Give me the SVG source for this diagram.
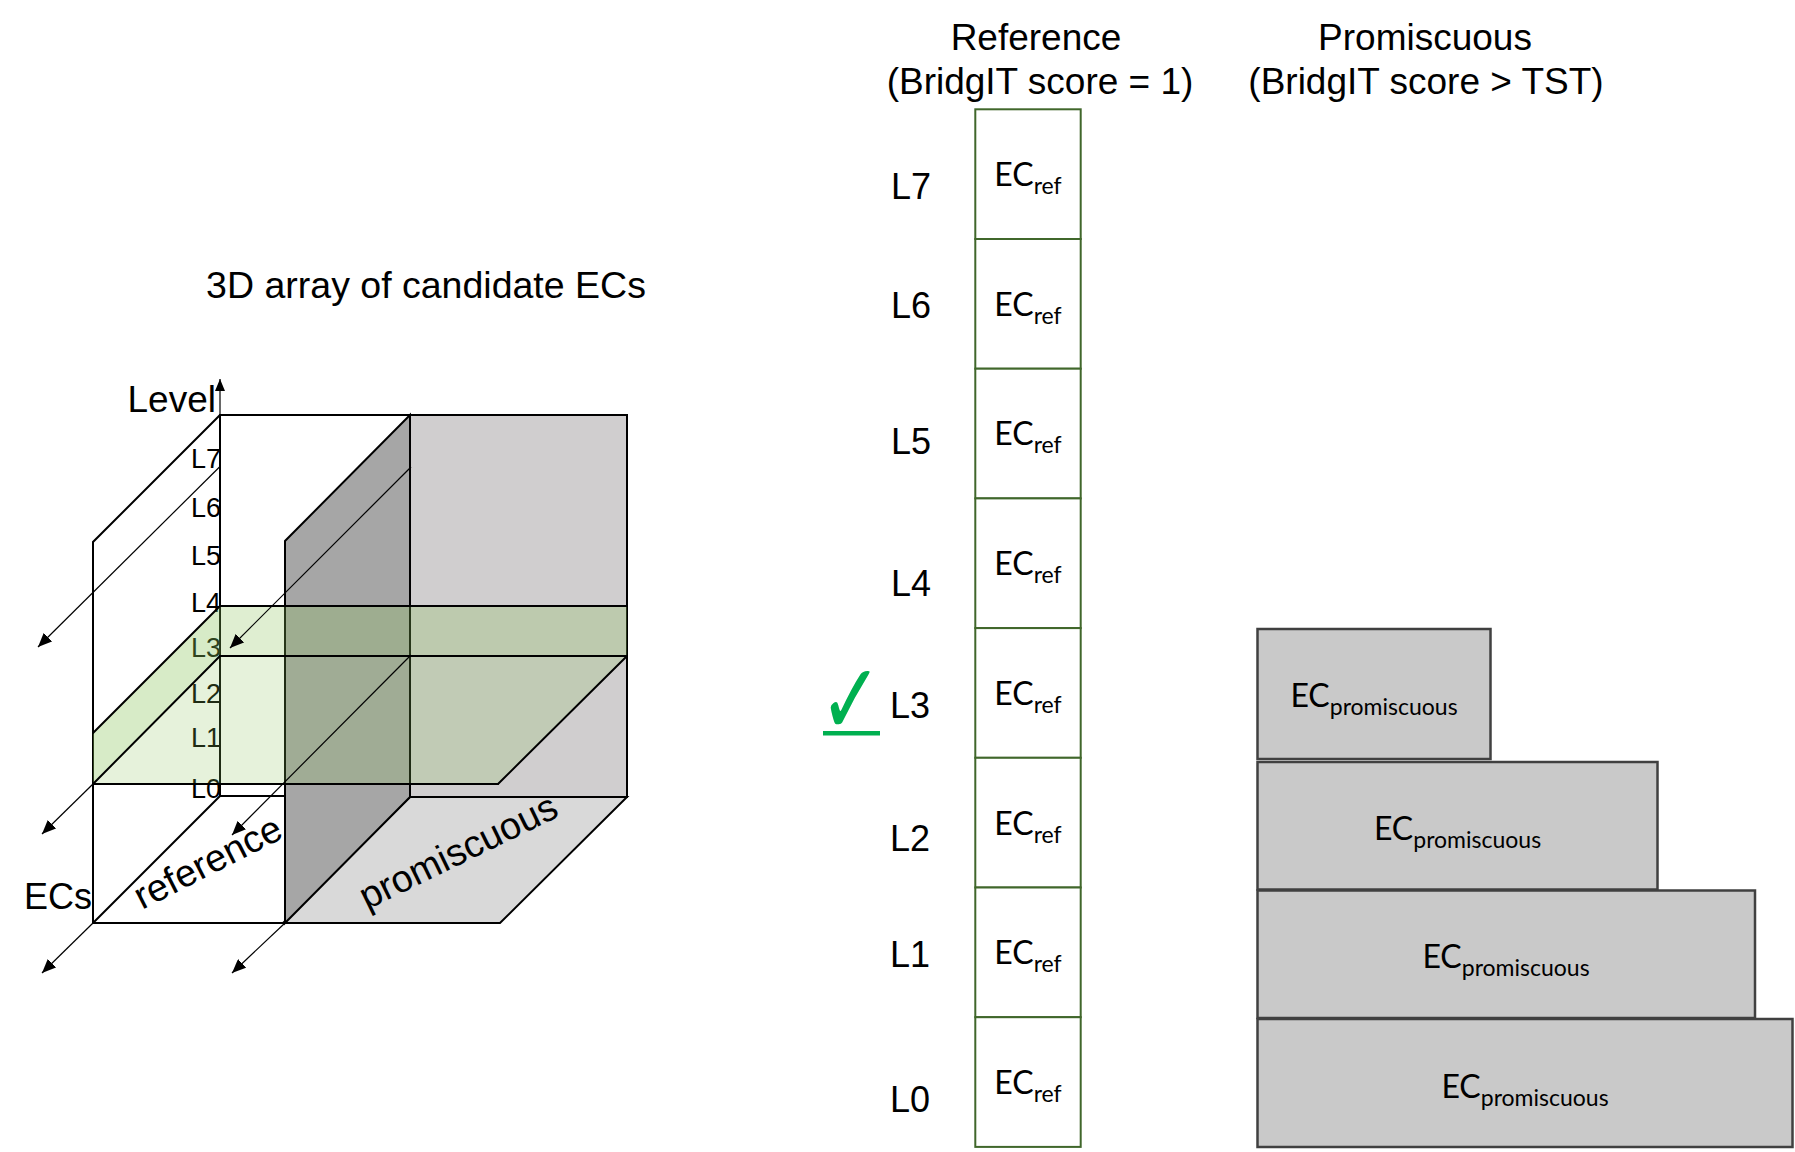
<svg xmlns="http://www.w3.org/2000/svg" width="1795" height="1152" viewBox="0 0 1795 1152">
<defs>
<style>
.t{font-family:"Liberation Sans",Arial,sans-serif;fill:#000}
.big{font-size:37px}
.lab{font-size:36px}
.flr{font-size:38px}
.ax{font-size:27px}
.edge{fill:none;stroke:#000;stroke-width:2;stroke-linecap:round}
.thin{fill:none;stroke:#000;stroke-width:1.2}
.refbox{fill:#fff;stroke:#40672b;stroke-width:2}
.prombox{fill:#c9c9c9;stroke:#404040;stroke-width:2.5}
.ec{font-family:Lato,"Open Sans",sans-serif;font-size:32px;fill:#000}
.sub{font-size:23px}
.slab{fill:#8bc35b;stroke:none}
</style>
<marker id="ah" viewBox="0 0 14 12" refX="14" refY="6" markerWidth="14" markerHeight="12" markerUnits="userSpaceOnUse" orient="auto">
<path d="M0,0 L14,6 L0,12 z" fill="#000"/>
</marker>
<marker id="ahs" viewBox="0 0 12 10" refX="12" refY="5" markerWidth="12" markerHeight="10" markerUnits="userSpaceOnUse" orient="auto">
<path d="M0,0 L12,5 L0,10 z" fill="#000"/>
</marker>
</defs>
<rect width="1795" height="1152" fill="#fff"/>

<g id="title-3d">
<text class="t" font-size="37.5" x="426" y="298" text-anchor="middle">3D array of candidate ECs</text>
</g>

<g id="cube3d">
<polygon points="220,415 93,542 93,923 220,796" fill="#fff"/>
<rect x="410" y="415" width="217" height="382" fill="#d0cecf" stroke="#000" stroke-width="2"/>
<polygon points="410,797 627,797 500,923 283,923" fill="#d9d9d9" stroke="#000" stroke-width="2"/>
<line class="edge" x1="220" y1="796" x2="410" y2="796"/>
<line class="edge" x1="220" y1="796" x2="93" y2="923"/>
<line class="edge" x1="93" y1="923" x2="285" y2="923"/>
<line class="edge" x1="220" y1="415" x2="627" y2="415"/>
<polyline class="edge" points="220,415 93,542 93,923"/>
<line class="edge" x1="220" y1="415" x2="220" y2="796"/>
<line class="thin" x1="220" y1="415" x2="220" y2="379" marker-end="url(#ahs)"/>
<polygon points="410,415 285,541 285,923 410,797" fill="#a6a6a6" stroke="#000" stroke-width="2"/>
</g>

<g id="axis-labels">
<text class="t" font-size="37" x="216" y="412" text-anchor="end">Level</text>
<text class="t ax" x="221" y="468" text-anchor="end">L7</text>
<text class="t ax" x="221" y="517" text-anchor="end">L6</text>
<text class="t ax" x="221" y="565" text-anchor="end">L5</text>
<text class="t ax" x="221" y="612" text-anchor="end">L4</text>
<text class="t ax" x="221" y="657" text-anchor="end">L3</text>
<text class="t ax" x="221" y="703" text-anchor="end">L2</text>
<text class="t ax" x="221" y="747" text-anchor="end">L1</text>
<text class="t ax" x="221" y="798" text-anchor="end">L0</text>
</g>

<g id="slab-L3">
<polygon class="slab" points="220,606 627,606 627,656 220,656" fill-opacity="0.28"/>
<polygon class="slab" points="220,656 627,656 498,784 93,784" fill-opacity="0.22"/>
<polygon class="slab" points="220,606 220,656 93,784 93,733" fill-opacity="0.34"/>
<line class="edge" x1="220" y1="606" x2="627" y2="606"/>
<line class="edge" x1="220" y1="656" x2="627" y2="656"/>
<line class="edge" x1="220" y1="606" x2="93" y2="733"/>
<line class="edge" x1="220" y1="656" x2="93" y2="784"/>
<line class="edge" x1="93" y1="784" x2="498" y2="784"/>
<line class="edge" x1="627" y1="656" x2="498" y2="784"/>
</g>

<g id="connectors">
<line class="thin" x1="220.5" y1="466" x2="38" y2="647" marker-end="url(#ah)"/>
<line class="thin" x1="411" y1="467" x2="230" y2="648" marker-end="url(#ah)"/>
<line class="thin" x1="93" y1="784" x2="42" y2="834" marker-end="url(#ah)"/>
<line class="thin" x1="411" y1="655" x2="232" y2="835" marker-end="url(#ah)"/>
<line class="thin" x1="93" y1="923" x2="42" y2="973" marker-end="url(#ah)"/>
<line class="thin" x1="285" y1="923" x2="232" y2="973" marker-end="url(#ah)"/>
</g>

<g id="cube-labels">
<text class="t lab" x="24" y="909">ECs</text>
<text class="t flr" transform="translate(142,910) rotate(-27)">reference</text>
<text class="t flr" transform="translate(367,910) rotate(-26)">promiscuous</text>
</g>

<g id="headers">
<text class="t big" x="1036" y="50" text-anchor="middle">Reference</text>
<text class="t big" x="1040" y="94" text-anchor="middle">(BridgIT score = 1)</text>
<text class="t big" x="1425" y="50" text-anchor="middle">Promiscuous</text>
<text class="t big" x="1426" y="94" text-anchor="middle">(BridgIT score &gt; TST)</text>
</g>

<g id="level-labels">
<text class="t lab" x="911" y="199" text-anchor="middle">L7</text>
<text class="t lab" x="911" y="318" text-anchor="middle">L6</text>
<text class="t lab" x="911" y="454" text-anchor="middle">L5</text>
<text class="t lab" x="911" y="596" text-anchor="middle">L4</text>
<text class="t lab" x="910" y="718" text-anchor="middle">L3</text>
<text class="t lab" x="910" y="851" text-anchor="middle">L2</text>
<text class="t lab" x="910" y="967" text-anchor="middle">L1</text>
<text class="t lab" x="910" y="1112" text-anchor="middle">L0</text>
</g>

<g id="check">
<text transform="translate(819.5,734) scale(0.75,1)" font-family="'DejaVu Sans',sans-serif" font-size="100" fill="#00b050">✓</text>
<rect x="823" y="731" width="57" height="4.5" fill="#00b050"/>
</g>

<g id="ref-column">
<g id="ref-L7"><rect class="refbox" x="975.3" y="109.3" width="105.4" height="129.7"/><text class="ec" x="1028" y="186" text-anchor="middle">EC<tspan class="sub" dy="8">ref</tspan></text></g>
<g id="ref-L6"><rect class="refbox" x="975.3" y="239" width="105.4" height="129.7"/><text class="ec" x="1028" y="315.7" text-anchor="middle">EC<tspan class="sub" dy="8">ref</tspan></text></g>
<g id="ref-L5"><rect class="refbox" x="975.3" y="368.7" width="105.4" height="129.7"/><text class="ec" x="1028" y="445.4" text-anchor="middle">EC<tspan class="sub" dy="8">ref</tspan></text></g>
<g id="ref-L4"><rect class="refbox" x="975.3" y="498.4" width="105.4" height="129.7"/><text class="ec" x="1028" y="575.1" text-anchor="middle">EC<tspan class="sub" dy="8">ref</tspan></text></g>
<g id="ref-L3"><rect class="refbox" x="975.3" y="628.1" width="105.4" height="129.7"/><text class="ec" x="1028" y="704.8" text-anchor="middle">EC<tspan class="sub" dy="8">ref</tspan></text></g>
<g id="ref-L2"><rect class="refbox" x="975.3" y="757.8" width="105.4" height="129.7"/><text class="ec" x="1028" y="834.5" text-anchor="middle">EC<tspan class="sub" dy="8">ref</tspan></text></g>
<g id="ref-L1"><rect class="refbox" x="975.3" y="887.5" width="105.4" height="129.7"/><text class="ec" x="1028" y="964.2" text-anchor="middle">EC<tspan class="sub" dy="8">ref</tspan></text></g>
<g id="ref-L0"><rect class="refbox" x="975.3" y="1017.2" width="105.4" height="129.7"/><text class="ec" x="1028" y="1093.9" text-anchor="middle">EC<tspan class="sub" dy="8">ref</tspan></text></g>
</g>

<g id="prom-column">
<g id="prom-L3"><rect class="prombox" x="1257.5" y="629" width="233" height="130"/><text class="ec" x="1374" y="707" text-anchor="middle">EC<tspan class="sub" dy="8">promiscuous</tspan></text></g>
<g id="prom-L2"><rect class="prombox" x="1257.5" y="762" width="400" height="127.5"/><text class="ec" x="1457.5" y="840" text-anchor="middle">EC<tspan class="sub" dy="8">promiscuous</tspan></text></g>
<g id="prom-L1"><rect class="prombox" x="1257.5" y="890.5" width="497.5" height="127.5"/><text class="ec" x="1506" y="968" text-anchor="middle">EC<tspan class="sub" dy="8">promiscuous</tspan></text></g>
<g id="prom-L0"><rect class="prombox" x="1257.5" y="1019" width="535" height="128"/><text class="ec" x="1525" y="1098" text-anchor="middle">EC<tspan class="sub" dy="8">promiscuous</tspan></text></g>
</g>
</svg>
